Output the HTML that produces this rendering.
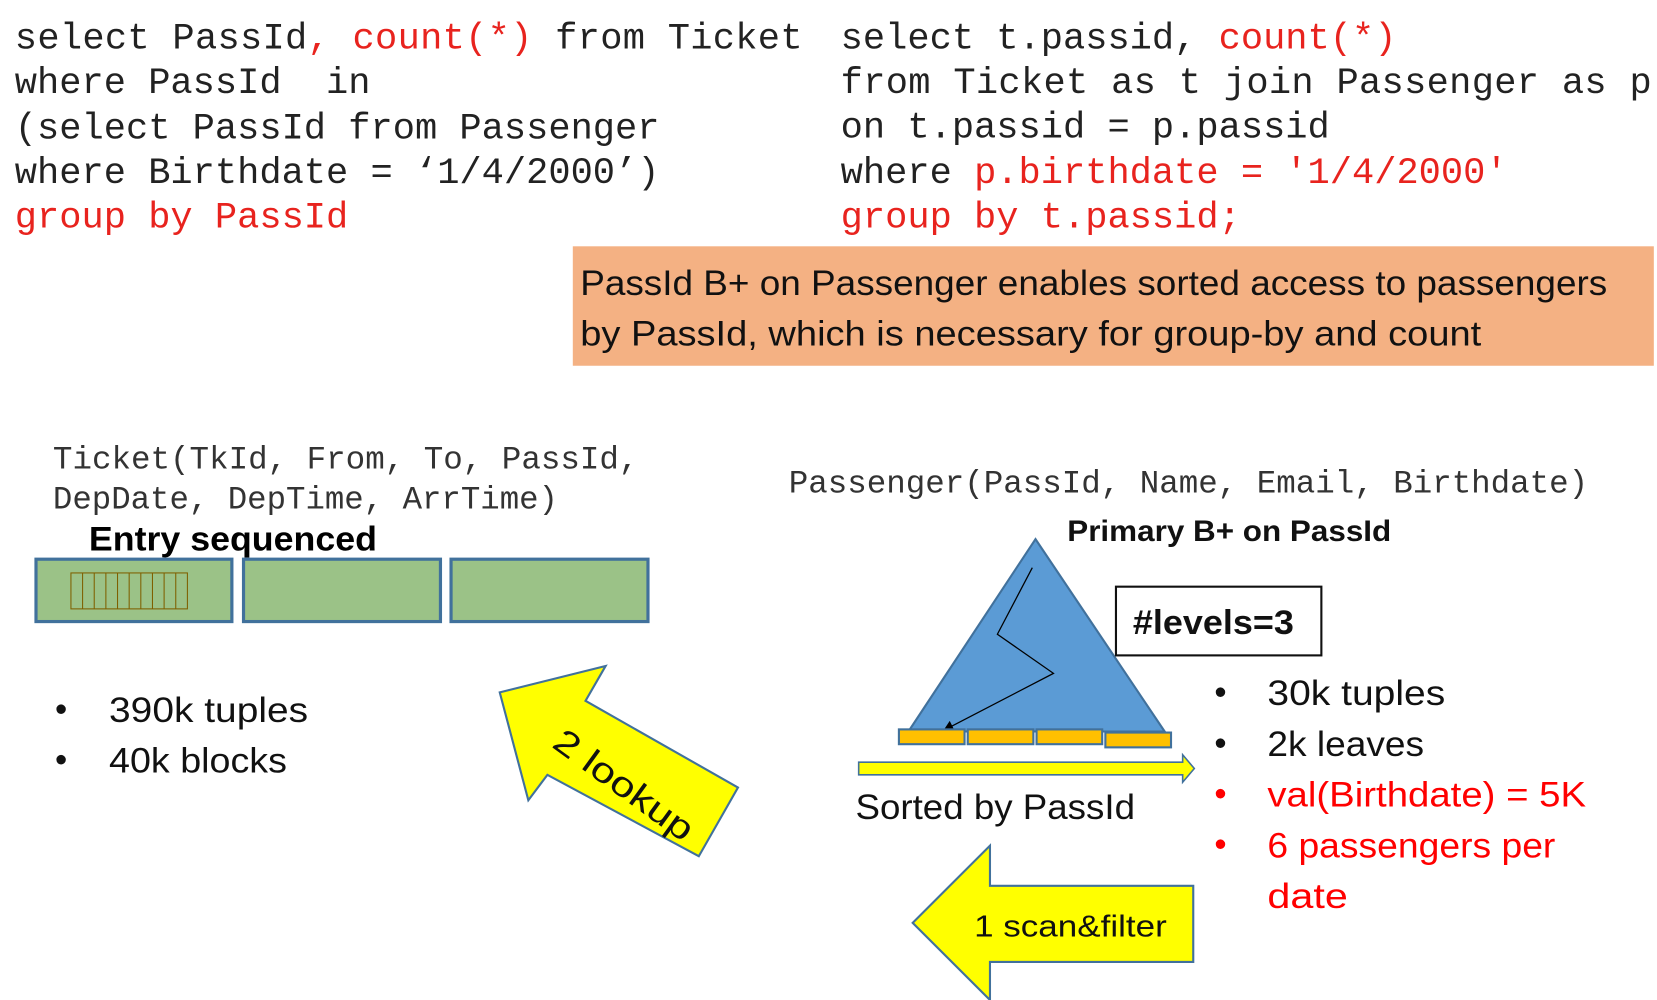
<!DOCTYPE html>
<html><head><meta charset="utf-8"><style>
html,body{margin:0;padding:0;background:#fff;}
svg{display:block;}
.m{font-family:"Liberation Mono",monospace;white-space:pre;}
.s{font-family:"Liberation Sans",sans-serif;}
</style></head><body>
<svg width="1657" height="1000" viewBox="0 0 1565 946" preserveAspectRatio="none" xmlns="http://www.w3.org/2000/svg">
<rect width="1565" height="946" fill="#fff"/>
<g class="m" font-size="35" fill="#222">
<text x="14" y="46" textLength="744" lengthAdjust="spacing"><tspan>select PassId</tspan><tspan fill="#e8231e">, count(*)</tspan><tspan> from Ticket</tspan></text>
<text x="14" y="88" style="white-space:pre">where PassId  in</text>
<text x="14" y="131">(select PassId from Passenger</text>
<text x="14" y="173">where Birthdate = ‘1/4/2000’)</text>
<text x="14" y="215" fill="#e8231e">group by PassId</text>
<text x="794" y="46"><tspan>select t.passid, </tspan><tspan fill="#e8231e">count(*)</tspan></text>
<text x="794" y="88" textLength="766">from Ticket as t join Passenger as p</text>
<text x="794" y="130">on t.passid = p.passid</text>
<text x="794" y="173"><tspan>where </tspan><tspan fill="#e8231e">p.birthdate = '1/4/2000'</tspan></text>
<text x="794" y="215" fill="#e8231e">group by t.passid;</text>
</g>
<rect x="541" y="233" width="1021" height="113" fill="#f4b183"/>
<g class="s" font-size="33" fill="#111">
<text x="548" y="279" textLength="970" lengthAdjust="spacingAndGlyphs">PassId B+ on Passenger enables sorted access to passengers</text>
<text x="548" y="327" textLength="851" lengthAdjust="spacingAndGlyphs">by PassId, which is necessary for group-by and count</text>
</g>
<g class="m" font-size="30.5" fill="#333">
<text x="50" y="443" textLength="553" lengthAdjust="spacingAndGlyphs">Ticket(TkId, From, To, PassId,</text>
<text x="50" y="481" textLength="477" lengthAdjust="spacingAndGlyphs">DepDate, DepTime, ArrTime)</text>
<text x="745" y="466" textLength="755" lengthAdjust="spacingAndGlyphs">Passenger(PassId, Name, Email, Birthdate)</text>
</g>
<text class="s" x="84" y="521" font-size="32" font-weight="bold" textLength="272" lengthAdjust="spacingAndGlyphs">Entry sequenced</text>
<g fill="#9bc287" stroke="#41719c" stroke-width="3">
<rect x="34" y="529" width="185" height="59"/>
<rect x="230" y="529" width="186" height="59"/>
<rect x="426" y="529" width="186" height="59"/>
</g>
<g fill="none" stroke="#7f6000" stroke-width="1">
<rect x="67" y="542" width="110" height="34"/>
<path d="M78 542V576M89 542V576M100 542V576M111 542V576M122 542V576M133 542V576M144 542V576M155 542V576M166 542V576"/>
</g>
<g class="s" font-size="33" fill="#111">
<text x="52" y="682">•</text><text x="103" y="683" textLength="188" lengthAdjust="spacingAndGlyphs">390k tuples</text>
<text x="52" y="730">•</text><text x="103" y="731" textLength="168" lengthAdjust="spacingAndGlyphs">40k blocks</text>
</g>
<polygon points="472,655 572,630 553,663 697,745 660,810 517,733 499,757" fill="#ffff00" stroke="#41719c" stroke-width="2"/>
<text class="s" x="0" y="0" font-size="33" fill="#111" transform="translate(520,706) rotate(36)" textLength="155" lengthAdjust="spacingAndGlyphs">2 lookup</text>
<polygon points="978,510 1100,692 858,692" fill="#5b9bd5" stroke="#41719c" stroke-width="2"/>
<path d="M975,537 L942,600 L995,637 L895,689" fill="none" stroke="#000" stroke-width="1.2"/>
<polygon points="891,691 897,682 901,690" fill="#000"/>
<g fill="#ffc000" stroke="#41719c" stroke-width="2">
<rect x="849" y="690" width="62" height="14"/>
<rect x="914" y="690" width="62" height="14"/>
<rect x="979" y="690" width="62" height="14"/>
<rect x="1044" y="693" width="62" height="14"/>
</g>
<polygon points="811,721 1117,721 1117,714 1128,727 1117,740 1117,733 811,733" fill="#ffff00" stroke="#41719c" stroke-width="1.5"/>
<text class="s" x="808" y="775" font-size="33" fill="#111" textLength="264" lengthAdjust="spacingAndGlyphs">Sorted by PassId</text>
<text class="s" x="1008" y="512" font-size="28" font-weight="bold" fill="#111" textLength="306" lengthAdjust="spacingAndGlyphs">Primary B+ on PassId</text>
<rect x="1054" y="555" width="194" height="65" fill="#fff" stroke="#111" stroke-width="2"/>
<text class="s" x="1070" y="600" font-size="32" font-weight="bold" fill="#111" textLength="152" lengthAdjust="spacingAndGlyphs">#levels=3</text>
<g class="s" font-size="33">
<text x="1147" y="666" fill="#111">•</text><text x="1197" y="667" fill="#111" textLength="168" lengthAdjust="spacingAndGlyphs">30k tuples</text>
<text x="1147" y="714" fill="#111">•</text><text x="1197" y="715" fill="#111" textLength="148" lengthAdjust="spacingAndGlyphs">2k leaves</text>
<text x="1147" y="762" fill="#ff0000">•</text><text x="1197" y="763" fill="#ff0000" textLength="301" lengthAdjust="spacingAndGlyphs">val(Birthdate) = 5K</text>
<text x="1147" y="810" fill="#ff0000">•</text><text x="1197" y="811" fill="#ff0000" textLength="272" lengthAdjust="spacingAndGlyphs">6 passengers per</text>
<text x="1197" y="859" fill="#ff0000" textLength="76" lengthAdjust="spacingAndGlyphs">date</text>
</g>
<polygon points="862,873 935,800 935,838 1127,838 1127,910 935,910 935,946" fill="#ffff00" stroke="#41719c" stroke-width="2"/>
<text class="s" x="920" y="886" font-size="29" fill="#111" textLength="182" lengthAdjust="spacingAndGlyphs">1 scan&amp;filter</text>
</svg>
</body></html>
